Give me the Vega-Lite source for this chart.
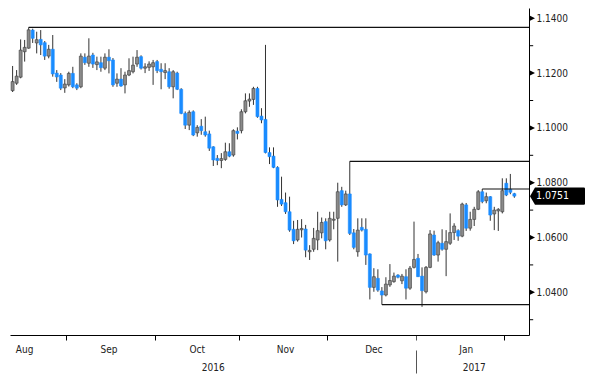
{
  "$schema": "https://vega.github.io/schema/vega-lite/v6.json",
  "width": 519,
  "height": 327,
  "autosize": {"type": "none"},
  "padding": {"left": 10, "top": 8, "right": 71, "bottom": 45},
  "background": "white",
  "config": {
    "view": {"stroke": null},
    "font": "DejaVu Sans Condensed, DejaVu Sans, sans-serif"
  },
  "datasets": {
    "candles": [
      {"date": "2016-08-12", "o": 1.1136, "h": 1.1226, "l": 1.1131, "c": 1.1169},
      {"date": "2016-08-15", "o": 1.1163, "h": 1.1211, "l": 1.1157, "c": 1.1189},
      {"date": "2016-08-16", "o": 1.1185, "h": 1.1323, "l": 1.1181, "c": 1.1284},
      {"date": "2016-08-17", "o": 1.1278, "h": 1.1321, "l": 1.1242, "c": 1.1294},
      {"date": "2016-08-18", "o": 1.1291, "h": 1.1367, "l": 1.1289, "c": 1.1358},
      {"date": "2016-08-19", "o": 1.1357, "h": 1.1362, "l": 1.1310, "c": 1.1327},
      {"date": "2016-08-22", "o": 1.1310, "h": 1.1351, "l": 1.1272, "c": 1.1322},
      {"date": "2016-08-23", "o": 1.1323, "h": 1.1357, "l": 1.1266, "c": 1.1303},
      {"date": "2016-08-24", "o": 1.1311, "h": 1.1317, "l": 1.1248, "c": 1.1262},
      {"date": "2016-08-25", "o": 1.1262, "h": 1.1303, "l": 1.1254, "c": 1.1287},
      {"date": "2016-08-26", "o": 1.1287, "h": 1.1339, "l": 1.1187, "c": 1.1197},
      {"date": "2016-08-29", "o": 1.1200, "h": 1.1211, "l": 1.1168, "c": 1.1186},
      {"date": "2016-08-30", "o": 1.1193, "h": 1.1200, "l": 1.1138, "c": 1.1145},
      {"date": "2016-08-31", "o": 1.1146, "h": 1.1178, "l": 1.1128, "c": 1.1160},
      {"date": "2016-09-01", "o": 1.1157, "h": 1.1205, "l": 1.1151, "c": 1.1199},
      {"date": "2016-09-02", "o": 1.1199, "h": 1.1223, "l": 1.1145, "c": 1.1150},
      {"date": "2016-09-05", "o": 1.1157, "h": 1.1163, "l": 1.1138, "c": 1.1145},
      {"date": "2016-09-06", "o": 1.1150, "h": 1.1272, "l": 1.1145, "c": 1.1262},
      {"date": "2016-09-07", "o": 1.1258, "h": 1.1272, "l": 1.1230, "c": 1.1238},
      {"date": "2016-09-08", "o": 1.1236, "h": 1.1327, "l": 1.1223, "c": 1.1262},
      {"date": "2016-09-09", "o": 1.1266, "h": 1.1274, "l": 1.1219, "c": 1.1233},
      {"date": "2016-09-12", "o": 1.1231, "h": 1.1260, "l": 1.1211, "c": 1.1241},
      {"date": "2016-09-13", "o": 1.1238, "h": 1.1260, "l": 1.1205, "c": 1.1220},
      {"date": "2016-09-14", "o": 1.1218, "h": 1.1272, "l": 1.1211, "c": 1.1258},
      {"date": "2016-09-15", "o": 1.1258, "h": 1.1287, "l": 1.1199, "c": 1.1245},
      {"date": "2016-09-16", "o": 1.1248, "h": 1.1255, "l": 1.1150, "c": 1.1157},
      {"date": "2016-09-19", "o": 1.1163, "h": 1.1199, "l": 1.1150, "c": 1.1178},
      {"date": "2016-09-20", "o": 1.1178, "h": 1.1218, "l": 1.1150, "c": 1.1153},
      {"date": "2016-09-21", "o": 1.1157, "h": 1.1205, "l": 1.1126, "c": 1.1193},
      {"date": "2016-09-22", "o": 1.1193, "h": 1.1254, "l": 1.1189, "c": 1.1209},
      {"date": "2016-09-23", "o": 1.1205, "h": 1.1260, "l": 1.1199, "c": 1.1229},
      {"date": "2016-09-26", "o": 1.1233, "h": 1.1284, "l": 1.1223, "c": 1.1258},
      {"date": "2016-09-27", "o": 1.1260, "h": 1.1265, "l": 1.1213, "c": 1.1218},
      {"date": "2016-09-28", "o": 1.1218, "h": 1.1236, "l": 1.1200, "c": 1.1223},
      {"date": "2016-09-29", "o": 1.1221, "h": 1.1243, "l": 1.1208, "c": 1.1233},
      {"date": "2016-09-30", "o": 1.1223, "h": 1.1248, "l": 1.1157, "c": 1.1238},
      {"date": "2016-10-03", "o": 1.1242, "h": 1.1248, "l": 1.1200, "c": 1.1209},
      {"date": "2016-10-04", "o": 1.1214, "h": 1.1236, "l": 1.1141, "c": 1.1205},
      {"date": "2016-10-05", "o": 1.1202, "h": 1.1236, "l": 1.1178, "c": 1.1209},
      {"date": "2016-10-06", "o": 1.1205, "h": 1.1218, "l": 1.1143, "c": 1.1150},
      {"date": "2016-10-07", "o": 1.1150, "h": 1.1211, "l": 1.1108, "c": 1.1205},
      {"date": "2016-10-10", "o": 1.1200, "h": 1.1205, "l": 1.1138, "c": 1.1141},
      {"date": "2016-10-11", "o": 1.1141, "h": 1.1145, "l": 1.1050, "c": 1.1053},
      {"date": "2016-10-12", "o": 1.1053, "h": 1.1060, "l": 1.0996, "c": 1.1010},
      {"date": "2016-10-13", "o": 1.1010, "h": 1.1064, "l": 1.0992, "c": 1.1057},
      {"date": "2016-10-14", "o": 1.1059, "h": 1.1064, "l": 1.0970, "c": 1.0974},
      {"date": "2016-10-17", "o": 1.0982, "h": 1.1010, "l": 1.0968, "c": 1.1002},
      {"date": "2016-10-18", "o": 1.1006, "h": 1.1032, "l": 1.0975, "c": 1.0990},
      {"date": "2016-10-19", "o": 1.0986, "h": 1.1041, "l": 1.0968, "c": 1.0974},
      {"date": "2016-10-20", "o": 1.0978, "h": 1.0990, "l": 1.0916, "c": 1.0926},
      {"date": "2016-10-21", "o": 1.0931, "h": 1.0933, "l": 1.0861, "c": 1.0883},
      {"date": "2016-10-24", "o": 1.0889, "h": 1.0901, "l": 1.0864, "c": 1.0881},
      {"date": "2016-10-25", "o": 1.0881, "h": 1.0908, "l": 1.0853, "c": 1.0888},
      {"date": "2016-10-26", "o": 1.0885, "h": 1.0946, "l": 1.0880, "c": 1.0913},
      {"date": "2016-10-27", "o": 1.0913, "h": 1.0944, "l": 1.0893, "c": 1.0897},
      {"date": "2016-10-28", "o": 1.0901, "h": 1.0995, "l": 1.0895, "c": 1.0990},
      {"date": "2016-10-31", "o": 1.0988, "h": 1.1002, "l": 1.0958, "c": 1.0980},
      {"date": "2016-11-01", "o": 1.0990, "h": 1.1068, "l": 1.0980, "c": 1.1059},
      {"date": "2016-11-02", "o": 1.1059, "h": 1.1126, "l": 1.1053, "c": 1.1099},
      {"date": "2016-11-03", "o": 1.1098, "h": 1.1126, "l": 1.1077, "c": 1.1105},
      {"date": "2016-11-04", "o": 1.1104, "h": 1.1150, "l": 1.1084, "c": 1.1144},
      {"date": "2016-11-07", "o": 1.1144, "h": 1.1150, "l": 1.1037, "c": 1.1041},
      {"date": "2016-11-08", "o": 1.1043, "h": 1.1072, "l": 1.1017, "c": 1.1029},
      {"date": "2016-11-09", "o": 1.1031, "h": 1.1303, "l": 1.0907, "c": 1.0910},
      {"date": "2016-11-10", "o": 1.0910, "h": 1.0929, "l": 1.0868, "c": 1.0895},
      {"date": "2016-11-11", "o": 1.0897, "h": 1.0929, "l": 1.0853, "c": 1.0856},
      {"date": "2016-11-14", "o": 1.0856, "h": 1.0860, "l": 1.0712, "c": 1.0737},
      {"date": "2016-11-15", "o": 1.0739, "h": 1.0822, "l": 1.0715, "c": 1.0722},
      {"date": "2016-11-16", "o": 1.0727, "h": 1.0764, "l": 1.0686, "c": 1.0694},
      {"date": "2016-11-17", "o": 1.0694, "h": 1.0749, "l": 1.0621, "c": 1.0627},
      {"date": "2016-11-18", "o": 1.0630, "h": 1.0661, "l": 1.0576, "c": 1.0588},
      {"date": "2016-11-21", "o": 1.0591, "h": 1.0664, "l": 1.0585, "c": 1.0630},
      {"date": "2016-11-22", "o": 1.0628, "h": 1.0667, "l": 1.0600, "c": 1.0633},
      {"date": "2016-11-23", "o": 1.0631, "h": 1.0646, "l": 1.0528, "c": 1.0554},
      {"date": "2016-11-24", "o": 1.0548, "h": 1.0572, "l": 1.0518, "c": 1.0553},
      {"date": "2016-11-25", "o": 1.0557, "h": 1.0635, "l": 1.0548, "c": 1.0597},
      {"date": "2016-11-28", "o": 1.0591, "h": 1.0694, "l": 1.0554, "c": 1.0625},
      {"date": "2016-11-29", "o": 1.0617, "h": 1.0673, "l": 1.0597, "c": 1.0655},
      {"date": "2016-11-30", "o": 1.0658, "h": 1.0670, "l": 1.0557, "c": 1.0588},
      {"date": "2016-12-01", "o": 1.0591, "h": 1.0694, "l": 1.0585, "c": 1.0670},
      {"date": "2016-12-02", "o": 1.0663, "h": 1.0694, "l": 1.0630, "c": 1.0667},
      {"date": "2016-12-05", "o": 1.0670, "h": 1.0800, "l": 1.0512, "c": 1.0767},
      {"date": "2016-12-06", "o": 1.0771, "h": 1.0785, "l": 1.0712, "c": 1.0719},
      {"date": "2016-12-07", "o": 1.0719, "h": 1.0771, "l": 1.0715, "c": 1.0759},
      {"date": "2016-12-08", "o": 1.0759, "h": 1.0878, "l": 1.0609, "c": 1.0615},
      {"date": "2016-12-09", "o": 1.0617, "h": 1.0631, "l": 1.0557, "c": 1.0564},
      {"date": "2016-12-12", "o": 1.0548, "h": 1.0670, "l": 1.0530, "c": 1.0627},
      {"date": "2016-12-13", "o": 1.0637, "h": 1.0670, "l": 1.0622, "c": 1.0627},
      {"date": "2016-12-14", "o": 1.0630, "h": 1.0670, "l": 1.0500, "c": 1.0536},
      {"date": "2016-12-15", "o": 1.0540, "h": 1.0542, "l": 1.0374, "c": 1.0418},
      {"date": "2016-12-16", "o": 1.0418, "h": 1.0488, "l": 1.0402, "c": 1.0457},
      {"date": "2016-12-19", "o": 1.0451, "h": 1.0484, "l": 1.0402, "c": 1.0408},
      {"date": "2016-12-20", "o": 1.0405, "h": 1.0419, "l": 1.0355, "c": 1.0390},
      {"date": "2016-12-21", "o": 1.0390, "h": 1.0455, "l": 1.0385, "c": 1.0430},
      {"date": "2016-12-22", "o": 1.0427, "h": 1.0503, "l": 1.0420, "c": 1.0443},
      {"date": "2016-12-23", "o": 1.0439, "h": 1.0472, "l": 1.0435, "c": 1.0459},
      {"date": "2016-12-26", "o": 1.0463, "h": 1.0466, "l": 1.0451, "c": 1.0455},
      {"date": "2016-12-27", "o": 1.0442, "h": 1.0467, "l": 1.0430, "c": 1.0459},
      {"date": "2016-12-28", "o": 1.0457, "h": 1.0484, "l": 1.0374, "c": 1.0415},
      {"date": "2016-12-29", "o": 1.0415, "h": 1.0496, "l": 1.0409, "c": 1.0488},
      {"date": "2016-12-30", "o": 1.0491, "h": 1.0658, "l": 1.0487, "c": 1.0520},
      {"date": "2017-01-02", "o": 1.0524, "h": 1.0540, "l": 1.0456, "c": 1.0457},
      {"date": "2017-01-03", "o": 1.0459, "h": 1.0491, "l": 1.0347, "c": 1.0406},
      {"date": "2017-01-04", "o": 1.0402, "h": 1.0496, "l": 1.0396, "c": 1.0491},
      {"date": "2017-01-05", "o": 1.0491, "h": 1.0627, "l": 1.0488, "c": 1.0613},
      {"date": "2017-01-06", "o": 1.0609, "h": 1.0625, "l": 1.0533, "c": 1.0536},
      {"date": "2017-01-09", "o": 1.0536, "h": 1.0588, "l": 1.0512, "c": 1.0581},
      {"date": "2017-01-10", "o": 1.0579, "h": 1.0630, "l": 1.0552, "c": 1.0557},
      {"date": "2017-01-11", "o": 1.0557, "h": 1.0627, "l": 1.0459, "c": 1.0585},
      {"date": "2017-01-12", "o": 1.0579, "h": 1.0688, "l": 1.0573, "c": 1.0618},
      {"date": "2017-01-13", "o": 1.0618, "h": 1.0652, "l": 1.0591, "c": 1.0642},
      {"date": "2017-01-16", "o": 1.0625, "h": 1.0630, "l": 1.0588, "c": 1.0605},
      {"date": "2017-01-17", "o": 1.0605, "h": 1.0727, "l": 1.0601, "c": 1.0722},
      {"date": "2017-01-18", "o": 1.0719, "h": 1.0726, "l": 1.0624, "c": 1.0634},
      {"date": "2017-01-19", "o": 1.0634, "h": 1.0694, "l": 1.0625, "c": 1.0666},
      {"date": "2017-01-20", "o": 1.0666, "h": 1.0712, "l": 1.0642, "c": 1.0703},
      {"date": "2017-01-23", "o": 1.0703, "h": 1.0773, "l": 1.0700, "c": 1.0767},
      {"date": "2017-01-24", "o": 1.0767, "h": 1.0777, "l": 1.0725, "c": 1.0731},
      {"date": "2017-01-25", "o": 1.0734, "h": 1.0764, "l": 1.0725, "c": 1.0749},
      {"date": "2017-01-26", "o": 1.0749, "h": 1.0751, "l": 1.0661, "c": 1.0682},
      {"date": "2017-01-27", "o": 1.0686, "h": 1.0712, "l": 1.0627, "c": 1.0700},
      {"date": "2017-01-30", "o": 1.0697, "h": 1.0707, "l": 1.0624, "c": 1.0703},
      {"date": "2017-01-31", "o": 1.0694, "h": 1.0816, "l": 1.0688, "c": 1.0771},
      {"date": "2017-02-01", "o": 1.0798, "h": 1.0816, "l": 1.0751, "c": 1.0755},
      {"date": "2017-02-02", "o": 1.0776, "h": 1.0832, "l": 1.0758, "c": 1.0765},
      {"date": "2017-02-03", "o": 1.0760, "h": 1.0763, "l": 1.0745, "c": 1.0751}
    ],
    "levels": [
      {"from": "2016-08-18", "level": 1.1367},
      {"from": "2016-12-08", "level": 1.0878},
      {"from": "2016-12-20", "level": 1.0355},
      {"from": "2017-01-24", "level": 1.0777}
    ],
    "majorTicks": [{"v": 1.04}, {"v": 1.06}, {"v": 1.08}, {"v": 1.10}, {"v": 1.12}, {"v": 1.14}],
    "minorTicks": [{"v": 1.03}, {"v": 1.05}, {"v": 1.07}, {"v": 1.09}, {"v": 1.11}, {"v": 1.13}],
    "last": [{"price": 1.0751}]
  },
  "layer": [
    {
      "data": {"name": "candles"},
      "mark": {"type": "rule", "color": "#333333", "strokeWidth": 1},
      "encoding": {
        "x": {
          "field": "date",
          "type": "ordinal",
          "title": null,
          "scale": {
            "type": "band",
            "paddingInner": 0,
            "paddingOuter": 0.15,
            "domain": {"unionWith": ["2017-02-06", "2017-02-07", "2017-02-08"]}
          },
          "axis": {
            "values": ["2016-09-01", "2016-10-03", "2016-11-01", "2016-12-01", "2017-01-02", "2017-02-01",
                       "2016-08-17", "2016-09-15", "2016-10-17", "2016-11-16", "2016-12-16", "2017-01-18",
                       "2016-10-21", "2017-01-20"],
            "bandPosition": 0,
            "domainColor": "#000000",
            "domainWidth": 1,
            "tickSize": 38,
            "tickWidth": 1,
            "tickColor": {"condition": {"test": "datum.value == '2017-01-02'", "value": "#555555"}, "value": "#000000"},
            "tickDash": {"condition": {"test": "datum.value == '2017-01-02'", "value": [5, 10, 23, 20]}, "value": [5, 60]},
            "tickOpacity": {"condition": {"test": "indexof(['2016-09-01','2016-10-03','2016-11-01','2016-12-01','2017-01-02','2017-02-01'], datum.value) >= 0", "value": 1}, "value": 0},
            "labelExpr": "datum.value == '2016-08-17' ? 'Aug' : datum.value == '2016-09-15' ? 'Sep' : datum.value == '2016-10-17' ? 'Oct' : datum.value == '2016-11-16' ? 'Nov' : datum.value == '2016-12-16' ? 'Dec' : datum.value == '2017-01-18' ? 'Jan' : datum.value == '2016-10-21' ? ['', '2016'] : datum.value == '2017-01-20' ? ['', '2017'] : ''",
            "labelAngle": 0,
            "labelAlign": "center",
            "labelBaseline": "top",
            "labelPadding": -29,
            "labelLineHeight": 18,
            "labelFontSize": 10,
            "labelColor": "#222222",
            "labelOverlap": false,
            "labelBound": false,
            "labelFlush": false,
            "grid": false
          }
        },
        "y": {
          "field": "l",
          "type": "quantitative",
          "title": null,
          "scale": {"domain": [1.02442, 1.14376], "nice": false, "zero": false},
          "axis": {
            "orient": "right",
            "values": [1.04, 1.06, 1.08, 1.1, 1.12, 1.14],
            "format": ".4f",
            "domainColor": "#000000",
            "domainWidth": 1,
            "ticks": false,
            "labelPadding": 7,
            "labelFontSize": 10,
            "labelColor": "#222222",
            "labelBaseline": "middle",
            "grid": false
          }
        },
        "y2": {"field": "h"}
      }
    },
    {
      "data": {"name": "candles"},
      "mark": {"type": "bar", "size": 3, "strokeWidth": 0.6},
      "encoding": {
        "x": {"field": "date", "type": "ordinal", "title": null},
        "y": {"field": "o", "type": "quantitative", "title": null},
        "y2": {"field": "c"},
        "fill": {"condition": {"test": "datum.c < datum.o", "value": "#1a8cff"}, "value": "#8a8a8a"},
        "stroke": {"condition": {"test": "datum.c < datum.o", "value": "#1a8cff"}, "value": "#3a3a3a"}
      }
    },
    {
      "data": {"name": "levels"},
      "mark": {"type": "rule", "color": "#111111", "strokeWidth": 1.2},
      "encoding": {
        "x": {"field": "from", "type": "ordinal", "title": null},
        "x2": {"value": "width"},
        "y": {"field": "level", "type": "quantitative", "title": null}
      }
    },
    {
      "data": {"name": "majorTicks"},
      "mark": {
        "type": "point",
        "filled": true,
        "color": "#000000",
        "opacity": 1,
        "shape": "M0,-0.5 L1,0 L0,0.5 Z",
        "size": 144
      },
      "encoding": {
        "x": {"value": "width"},
        "y": {"field": "v", "type": "quantitative", "title": null}
      }
    },
    {
      "data": {"name": "minorTicks"},
      "mark": {
        "type": "point",
        "filled": false,
        "color": "#000000",
        "opacity": 1,
        "strokeWidth": 1,
        "shape": "M0.1,0 L0.7,0",
        "size": 144
      },
      "encoding": {
        "x": {"value": "width"},
        "y": {"field": "v", "type": "quantitative", "title": null}
      }
    },
    {
      "data": {"name": "last"},
      "mark": {
        "type": "point",
        "filled": true,
        "color": "#000000",
        "opacity": 1,
        "shape": "M0.018,0 L0.107,-0.152 L0.98,-0.152 Q1,-0.152 1,-0.13 L1,0.13 Q1,0.152 0.98,0.152 L0.107,0.152 Z",
        "size": 12544
      },
      "encoding": {
        "x": {"value": "width"},
        "y": {"field": "price", "type": "quantitative", "title": null}
      }
    },
    {
      "data": {"name": "last"},
      "mark": {"type": "text", "color": "#ffffff", "align": "left", "baseline": "middle", "dx": 7, "fontSize": 10.5},
      "encoding": {
        "x": {"value": "width"},
        "y": {"field": "price", "type": "quantitative", "title": null},
        "text": {"field": "price", "type": "quantitative", "format": ".4f"}
      }
    }
  ]
}
